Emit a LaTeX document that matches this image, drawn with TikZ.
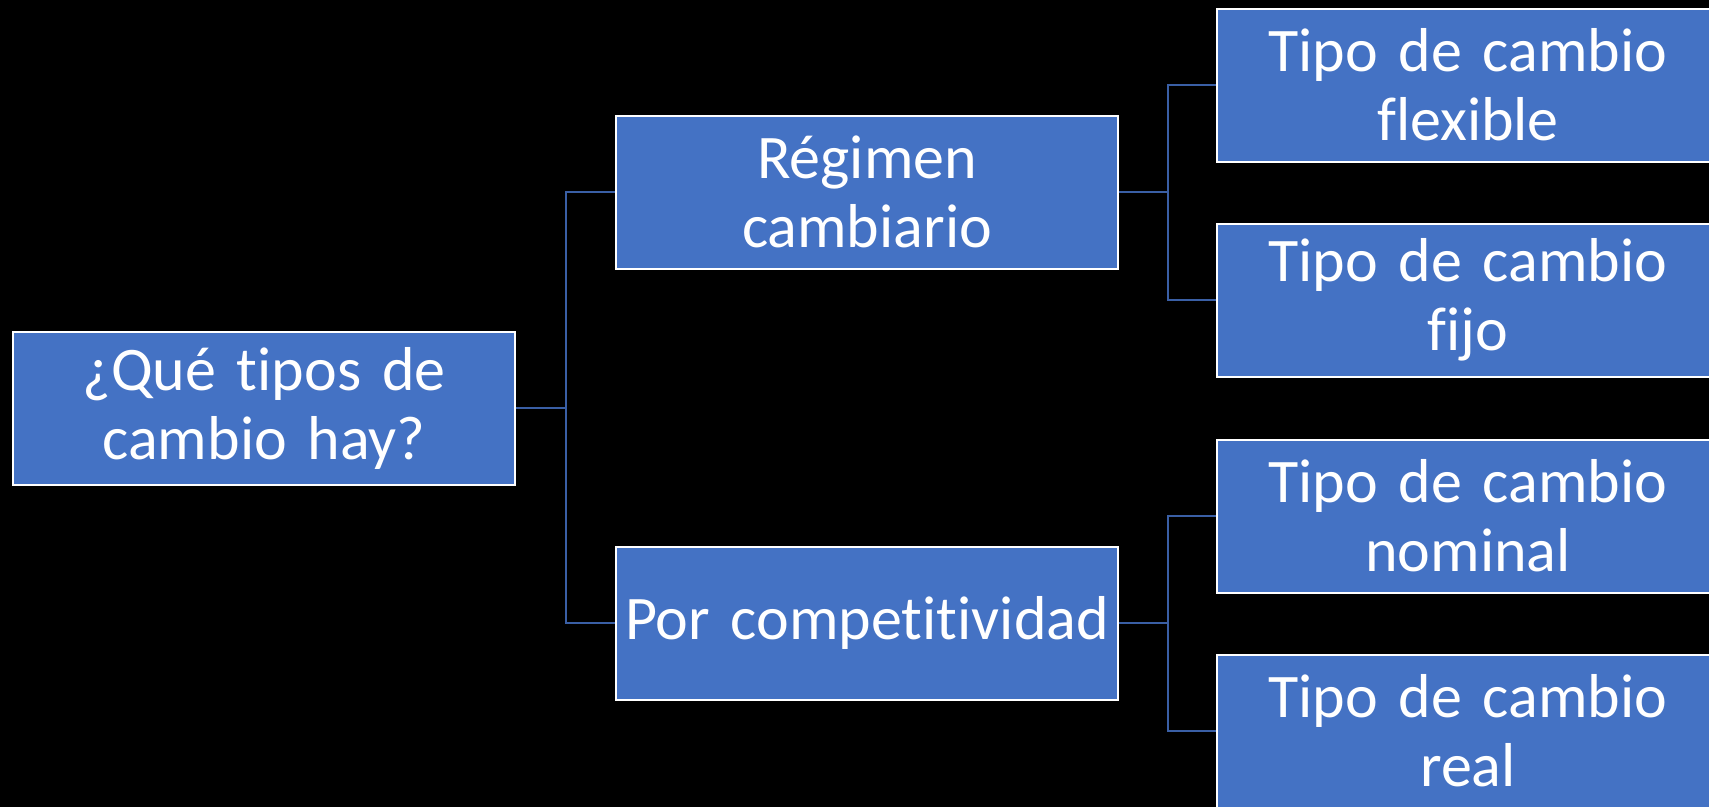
\documentclass[tikz,border=0pt]{standalone}
\usepackage{fontspec}
\setmainfont{Carlito}[Ligatures=NoCommon,WordSpace=0.6]
\usepackage{tikz}
\tikzstyle{box}=[rectangle,draw=white,line width=2pt,fill=boxblue,text=white,minimum width=502pt,minimum height=153pt,text width=498pt,inner sep=1pt,align=center,font=\fontsize{62}{69}\selectfont]
\tikzstyle{link}=[draw=linkblue,line width=1.8pt]
\definecolor{boxblue}{HTML}{4472C4}
\definecolor{linkblue}{HTML}{3A5FA5}

\begin{document}
\begin{tikzpicture}[x=1pt,y=1pt]
      \useasboundingbox (0,0) rectangle (1709,-807);
      \fill[black] (0,0) rectangle (1709,-807);

      \node[box] (root) at (264,-408) {¿Qué tipos de\\cambio hay?};
      \node[box] (reg) at (867,-192) {Régimen\\cambiario};
      \node[box] (comp) at (867,-623) {Por competitividad};
      \node[box] (flex) at (1468,-85) {Tipo de cambio\\flexible};
      \node[box] (fijo) at (1468,-300) {Tipo de cambio\\fijo};
      \node[box] (nom) at (1468,-516) {Tipo de cambio\\nominal};
      \node[box] (real) at (1468,-731) {Tipo de cambio\\real};

      \coordinate (j0) at (566,-408);
      \coordinate (j1) at (1168,-192);
      \coordinate (j2) at (1168,-623);

      \draw[link] (root) -- (j0);
      \draw[link] (j0) |- (reg);
      \draw[link] (j0) |- (comp);
      \draw[link] (reg) -- (j1);
      \draw[link] (j1) |- (flex);
      \draw[link] (j1) |- (fijo);
      \draw[link] (comp) -- (j2);
      \draw[link] (j2) |- (nom);
      \draw[link] (j2) |- (real);
    \end{tikzpicture}
\end{document}
